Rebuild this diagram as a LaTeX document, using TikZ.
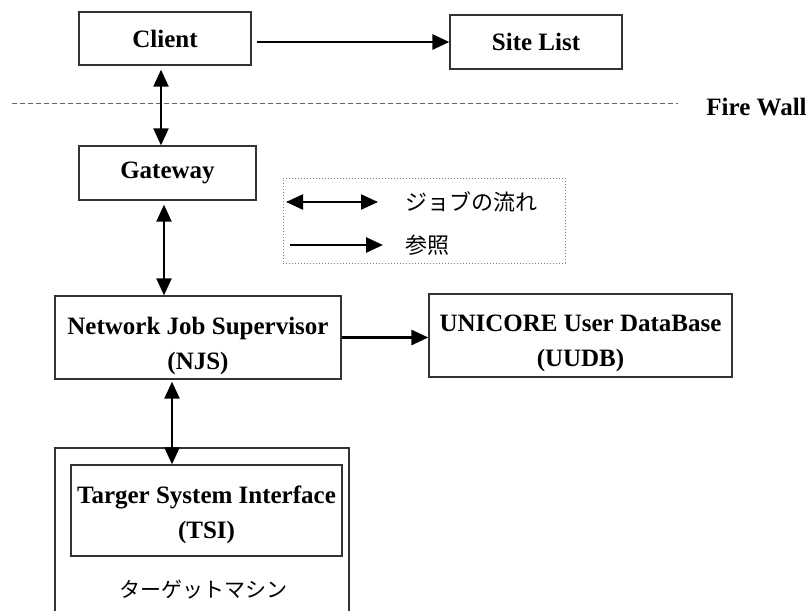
\documentclass[tikz,border=0pt]{standalone}
\usepackage{fontspec}
\setmainfont{Liberation Serif}
\newfontfamily\jpfont{Noto Sans CJK JP}
\usetikzlibrary{arrows.meta}

\tikzset{
  box/.style={draw=black!80, line width=1.3pt, inner sep=0pt, align=center,
    font=\bfseries\fontsize{25}{35}\selectfont},
  twoline/.style={text height=#1, text depth=0pt},
  flow/.style={line width=2.2pt, {Triangle[length=17pt,width=15pt]}-{Triangle[length=17pt,width=15pt]}},
  ref/.style={line width=2.8pt, -{Triangle[length=17pt,width=15pt]}},
  jp/.style={font=\jpfont\fontsize{22}{26}\selectfont},
}

\begin{document}
\begin{tikzpicture}[x=1pt,y=-1pt]
\useasboundingbox (0,0) rectangle (808,611);

% firewall
\draw[black!60, line width=1pt, dash pattern=on 5pt off 3pt] (12,103) -- (678,103);
\node[font=\bfseries\fontsize{25}{27}\selectfont] (firewall) at (756.5,107) {Fire Wall};

% boxes
\node[box, minimum width=172pt, minimum height=53pt] (client) at (165,38.5) {Client};
\node[box, minimum width=172pt, minimum height=54pt] (site) at (536,42) {Site List};
\node[box, minimum width=177pt, minimum height=54pt] (gateway) at (167.5,173) {Gateway};
\node[box, twoline=63pt, minimum width=286pt, minimum height=83pt] (njs) at (198,337.5) {Network Job Supervisor\\(NJS)};
\node[box, twoline=61pt, minimum width=303pt, minimum height=83pt] (uudb) at (580.5,335.5) {UNICORE User DataBase\\(UUDB)};

% target machine
\draw[draw=black!80, line width=1.3pt] (55,611) |- (349,448) -- (349,611);
\node[box, twoline=55pt, minimum width=271pt, minimum height=91pt] (tsi) at (206.5,510.5) {Targer System Interface\\(TSI)};
\node[font=\jpfont\fontsize{21}{25}\selectfont] (machine) at (203,590) {ターゲットマシン};

% legend
\node[draw=gray, dotted, line width=1pt, minimum width=282pt, minimum height=85pt] (legend) at (424,220.5) {};
\node[jp, anchor=west, inner sep=0pt] (jobtext) at (405,202) {ジョブの流れ};
\node[jp, anchor=west, inner sep=0pt] (reftext) at (405,245) {参照};
\draw[flow] ([xshift=-119pt]jobtext.west) -- ([xshift=-27pt]jobtext.west);
\draw[ref] ([xshift=-115pt]reftext.west) -- ([xshift=-22pt]reftext.west);

% connections
\draw[ref] ([xshift=5pt]client.east |- site.west) -- (site.west);
\draw[flow] ([xshift=-4pt,yshift=-4pt]client.south) -- ([xshift=-4pt]client.south |- gateway.north);
\draw[flow] ([xshift=-3.5pt,yshift=-4pt]gateway.south) -- ([xshift=-3.5pt]gateway.south |- njs.north);
\draw[ref] (njs.east) -- (njs.east -| uudb.west);
\draw[flow] ([xshift=-26pt,yshift=-2pt]njs.south) -- ([xshift=-26pt]njs.south |- tsi.north);

\end{tikzpicture}
\end{document}
